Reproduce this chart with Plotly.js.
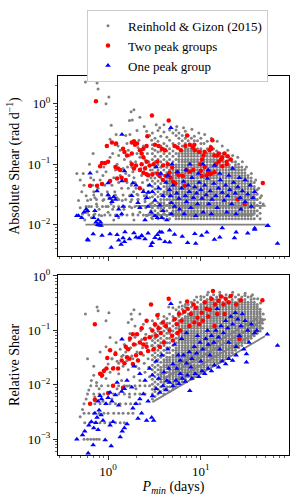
<!DOCTYPE html>
<html><head><meta charset="utf-8">
<script src="https://cdn.plot.ly/plotly-3.0.1.min.js"></script>
<style>html,body{margin:0;padding:0;background:#fff}#chart{width:299px;height:498px}</style>
</head><body><div id="chart"></div>
<script>
// ===== TOP PANEL: absolute shear (rad/d) vs Pmin (days) =====
const grayTopPairs = [
[0.57,2.3],[0.76,2.2],[0.78,1.76],[1.02,1.3],[0.95,1.0],[1.9,0.8],[1.77,0.74],[2.2,0.6],[1.7,0.53],[1.82,0.54],[1.08,0.44],[1.22,0.31],[1.72,0.31],[1.05,0.26],[1.19,0.21],[2.45,0.42],[2.05,0.36],[3.3,0.45],
[0.46,0.07],[0.5,0.055],[0.52,0.035],[0.55,0.045],[0.58,0.03],[0.6,0.025],[0.62,0.02],[0.48,0.025],[0.5,0.019],[0.53,0.015],[0.56,0.012],[0.6,0.016],[0.65,0.06],[0.68,0.045],[0.7,0.035],[0.72,0.028],[0.75,0.022],[0.8,0.018],[0.85,0.014],[0.66,0.013],[0.72,0.015],[0.78,0.04],[0.82,0.055],[0.88,0.065],[0.9,0.09],[0.95,0.075],[1.0,0.11],[1.05,0.13],[0.92,0.045],[0.98,0.035],[1.02,0.028],[1.08,0.022],[1.12,0.018],[0.88,0.025],[0.95,0.02],[1.0,0.016],[1.1,0.045],[1.15,0.06],[1.2,0.08],[1.25,0.1],[1.3,0.14],[1.35,0.17],[1.18,0.035],[1.25,0.028],[1.3,0.05],[1.35,0.065],[1.4,0.04],[1.45,0.085],[1.5,0.12],[1.42,0.025],[1.48,0.018],[0.69,0.15],[0.54,0.07],[0.63,0.1],[0.76,0.075],[1.12,0.15],[1.28,0.2],[0.7,0.055],[0.85,0.032],[1.15,0.012],[1.3,0.013],[1.4,0.015],
[1.55,0.3],[1.6,0.22],[1.65,0.17],[1.7,0.14],[1.75,0.11],[1.8,0.09],[1.85,0.075],[1.9,0.06],[1.95,0.05],[2.0,0.04],[2.05,0.032],[2.1,0.026],[2.15,0.02],[2.2,0.016],[1.6,0.05],[1.65,0.04],[1.7,0.03],[1.75,0.024],[1.8,0.019],[1.85,0.015],[1.9,0.012],[1.55,0.07],[1.62,0.09],[1.68,0.065],[1.78,0.045],[1.88,0.035],[1.98,0.11],[2.05,0.15],[2.1,0.19],[2.15,0.25],[2.2,0.13],[2.25,0.085],[2.3,0.065],[2.35,0.05],[2.4,0.038],[2.45,0.03],[2.5,0.024],[2.55,0.019],[2.6,0.014],[2.3,0.17],[2.4,0.2],[2.5,0.12],[2.55,0.09],[2.6,0.07],[2.65,0.055],[2.7,0.045],[2.75,0.035],[2.8,0.028],[2.85,0.022],[2.9,0.017],[2.95,0.013],[2.65,0.15],[2.75,0.11],[2.85,0.08],[2.9,0.06],[2.95,0.25],[3.0,0.18],[2.8,0.3],[2.6,0.35],
[0.62,0.0145],[0.7,0.0145],[0.8,0.0145],[0.92,0.0145],[1.05,0.0145],[1.2,0.0145],[1.4,0.0145],[1.6,0.0145],[1.85,0.0145],[2.1,0.0145],[2.4,0.0145],[2.7,0.0145],
[0.58,0.02],[0.66,0.02],[0.76,0.02],[0.87,0.02],[1.0,0.02],[1.15,0.02],[1.3,0.02],[1.5,0.02],[1.7,0.02],[1.95,0.02],[2.25,0.02],[2.6,0.02],
[0.65,0.026],[0.75,0.026],[0.9,0.026],[1.1,0.026],[1.3,0.026],[1.55,0.026],[1.8,0.026],[2.1,0.026],[2.5,0.026],
[0.7,0.031],[0.85,0.031],[1.0,0.031],[1.2,0.031],[1.45,0.031],[1.75,0.031],[2.1,0.031],[2.6,0.031],
[5.5,0.42],[6.5,0.4],[8,0.38],[9.5,0.33],[11,0.31],[13,0.27],[15,0.24],[17,0.2],[19.5,0.17],[22,0.14],[25,0.13],[28,0.11],[31,0.09],[35,0.07],[39,0.055],[42,0.04],[45,0.03],[47,0.022],[4,0.45],[3.6,0.4]
];
// dense core: column periods and the shear values stacked in each column
const grayTopColP = [3.0,3.2,3.45,3.7,4.0,4.3,4.6,5.0,5.4,5.8,6.3,6.8,7.3,7.9,8.5,9.2,10,10.8,11.7,12.7,13.7,14.8,16,17.3,18.7,20.2,21.8,23.6,25.5,27.6,29.8,32.2,34.8,37.6,40.5,43.5];
const grayTopColS = [
[0.0125,0.0155,0.019,0.023,0.029,0.035,0.043,0.053,0.065,0.08,0.098,0.12,0.15,0.21,0.33],
[0.014,0.017,0.021,0.026,0.032,0.039,0.048,0.059,0.072,0.089,0.11,0.135,0.17,0.27],
[0.0125,0.0155,0.019,0.023,0.029,0.035,0.043,0.053,0.065,0.08,0.098,0.12,0.16,0.24,0.36],
[0.014,0.017,0.019,0.021,0.023,0.026,0.032,0.039,0.048,0.059,0.072,0.089,0.11,0.135,0.165,0.2,0.29],
[0.0125,0.0155,0.017,0.019,0.021,0.023,0.026,0.029,0.032,0.035,0.043,0.053,0.065,0.08,0.098,0.12,0.15,0.18,0.22,0.34],
[0.014,0.017,0.021,0.026,0.032,0.035,0.039,0.043,0.048,0.053,0.059,0.072,0.089,0.11,0.135,0.165,0.2,0.28],
[0.0125,0.0155,0.019,0.021,0.023,0.026,0.029,0.032,0.035,0.039,0.043,0.048,0.053,0.059,0.065,0.08,0.098,0.12,0.15,0.18,0.25,0.37],
[0.014,0.0155,0.017,0.019,0.021,0.023,0.026,0.029,0.032,0.035,0.039,0.043,0.048,0.053,0.059,0.065,0.072,0.08,0.089,0.11,0.135,0.165,0.22,0.33],
[0.0125,0.014,0.0155,0.017,0.019,0.021,0.023,0.026,0.029,0.032,0.035,0.039,0.043,0.048,0.053,0.059,0.065,0.072,0.08,0.089,0.098,0.12,0.15,0.2,0.3,0.37],
[0.0125,0.014,0.0155,0.017,0.019,0.021,0.023,0.026,0.029,0.032,0.035,0.039,0.043,0.048,0.053,0.059,0.065,0.072,0.08,0.089,0.098,0.11,0.12,0.135,0.15,0.18,0.22,0.27,0.33],
[0.0125,0.014,0.0155,0.017,0.019,0.021,0.023,0.026,0.029,0.032,0.035,0.039,0.043,0.048,0.053,0.059,0.065,0.072,0.08,0.089,0.098,0.11,0.12,0.135,0.15,0.165,0.2,0.245,0.3],
[0.0125,0.014,0.0155,0.017,0.019,0.021,0.023,0.026,0.029,0.032,0.035,0.039,0.043,0.048,0.053,0.059,0.065,0.072,0.08,0.089,0.098,0.11,0.12,0.135,0.15,0.165,0.18,0.22,0.27,0.35],
[0.0125,0.014,0.0155,0.017,0.019,0.021,0.023,0.026,0.029,0.032,0.035,0.039,0.043,0.048,0.053,0.059,0.065,0.072,0.08,0.089,0.098,0.11,0.12,0.135,0.15,0.165,0.18,0.245,0.3],
[0.0125,0.014,0.0155,0.017,0.019,0.021,0.023,0.026,0.029,0.032,0.035,0.039,0.043,0.048,0.053,0.059,0.065,0.072,0.08,0.089,0.098,0.11,0.12,0.135,0.15,0.165,0.18,0.2,0.27],
[0.0125,0.014,0.0155,0.017,0.019,0.021,0.023,0.026,0.029,0.032,0.035,0.039,0.043,0.048,0.053,0.059,0.065,0.072,0.08,0.089,0.098,0.11,0.12,0.135,0.15,0.165,0.18,0.2,0.245,0.29],
[0.0125,0.014,0.0155,0.017,0.019,0.021,0.023,0.026,0.029,0.032,0.035,0.039,0.043,0.048,0.053,0.059,0.065,0.072,0.08,0.089,0.098,0.11,0.12,0.135,0.15,0.165,0.18,0.245],
[0.0125,0.014,0.0155,0.017,0.019,0.021,0.023,0.026,0.029,0.032,0.035,0.039,0.043,0.048,0.053,0.059,0.065,0.072,0.08,0.089,0.098,0.11,0.12,0.135,0.15,0.165,0.18,0.22,0.27],
[0.0125,0.014,0.0155,0.017,0.019,0.021,0.023,0.026,0.029,0.032,0.035,0.039,0.043,0.048,0.053,0.059,0.065,0.072,0.08,0.089,0.098,0.11,0.12,0.135,0.15,0.165,0.22],
[0.0125,0.014,0.0155,0.017,0.019,0.021,0.023,0.026,0.029,0.032,0.035,0.039,0.043,0.048,0.053,0.059,0.065,0.072,0.08,0.089,0.098,0.11,0.12,0.135,0.15,0.18,0.24],
[0.0125,0.014,0.0155,0.017,0.019,0.021,0.023,0.026,0.029,0.032,0.035,0.039,0.043,0.048,0.053,0.059,0.065,0.072,0.08,0.089,0.098,0.11,0.12,0.135,0.15,0.2],
[0.0125,0.014,0.0155,0.017,0.019,0.021,0.023,0.026,0.029,0.032,0.035,0.039,0.043,0.048,0.053,0.059,0.065,0.072,0.08,0.089,0.098,0.11,0.12,0.135,0.15,0.18],
[0.0125,0.014,0.0155,0.017,0.019,0.021,0.023,0.026,0.029,0.032,0.035,0.039,0.043,0.048,0.053,0.059,0.065,0.072,0.08,0.089,0.098,0.11,0.12,0.135,0.165],
[0.0125,0.014,0.0155,0.017,0.019,0.021,0.023,0.026,0.029,0.032,0.035,0.039,0.043,0.048,0.053,0.059,0.065,0.072,0.08,0.089,0.098,0.11,0.12,0.135,0.15],
[0.0125,0.014,0.0155,0.017,0.019,0.021,0.023,0.026,0.029,0.032,0.035,0.039,0.043,0.048,0.053,0.059,0.065,0.072,0.08,0.089,0.098,0.11,0.12,0.15],
[0.0125,0.014,0.0155,0.017,0.019,0.021,0.023,0.026,0.029,0.032,0.035,0.039,0.043,0.048,0.053,0.059,0.065,0.072,0.08,0.089,0.098,0.11,0.135],
[0.0125,0.014,0.0155,0.017,0.019,0.021,0.023,0.026,0.029,0.032,0.035,0.039,0.043,0.048,0.053,0.059,0.065,0.072,0.08,0.089,0.098,0.12],
[0.0125,0.014,0.0155,0.017,0.019,0.021,0.023,0.026,0.029,0.032,0.035,0.039,0.043,0.048,0.053,0.059,0.065,0.072,0.08,0.089,0.11],
[0.0125,0.014,0.0155,0.017,0.019,0.021,0.023,0.026,0.029,0.032,0.035,0.039,0.043,0.048,0.053,0.059,0.065,0.072,0.08,0.089,0.098,0.11],
[0.0125,0.014,0.0155,0.017,0.019,0.021,0.023,0.026,0.029,0.032,0.035,0.039,0.043,0.048,0.053,0.059,0.065,0.072,0.08,0.089,0.1],
[0.0125,0.014,0.0155,0.017,0.019,0.021,0.023,0.026,0.029,0.032,0.035,0.039,0.043,0.048,0.053,0.059,0.065,0.072,0.08,0.09],
[0.0125,0.014,0.0155,0.017,0.019,0.021,0.023,0.026,0.029,0.032,0.035,0.039,0.043,0.048,0.053,0.059,0.065,0.072,0.082],
[0.0125,0.014,0.0155,0.017,0.019,0.021,0.023,0.026,0.029,0.032,0.035,0.039,0.043,0.048,0.053,0.059,0.065],
[0.0125,0.014,0.0155,0.017,0.019,0.021,0.023,0.026,0.029,0.032,0.035,0.039,0.043,0.048,0.053,0.059],
[0.0125,0.0155,0.017,0.019,0.021,0.023,0.026,0.029,0.032,0.035,0.039,0.043,0.05],
[0.014,0.017,0.021,0.026,0.032,0.038],
[0.0125,0.0155,0.019,0.023,0.028]
];
const stripeTopS = [0.01, 0.0145, 0.0205, 0.026];
const stripeTopFrom = [0.57, 2.5, 2.0, 5];
const stripeTopTo = [50, 38, 50, 41];

const redTopPairs = [
[0.74,1.1],[0.97,0.2],[1.1,0.23],[1.22,0.22],[0.86,0.105],[0.93,0.105],[1.0,0.11],[0.82,0.093],[1.2,0.09],[1.28,0.085],[1.35,0.08],[1.45,0.18],[1.5,0.16],[1.6,0.14],[1.8,0.23],[1.9,0.24],[1.95,0.21],[2.05,0.22],[2.2,0.17],[2.3,0.15],[2.4,0.18],[1.05,0.053],[0.76,0.044],[0.86,0.047],[0.64,0.044],[1.25,0.058],[1.4,0.06],[1.55,0.055],[1.8,0.1],[1.9,0.085],[2.0,0.095],[2.2,0.08],[2.4,0.072],[2.5,0.085],[2.7,0.066],[2.2,0.04],[1.8,0.15],[2.6,0.2],[2.65,0.29],[2.97,0.64],[4.5,0.53],[7.1,0.3],[13.3,0.25],[3.2,0.21],[3.5,0.2],[3.8,0.18],[4.1,0.17],[5.2,0.2],[5.6,0.19],[6.1,0.17],[6.8,0.2],[7.6,0.21],[8.2,0.19],[8.6,0.17],[12.4,0.17],[13,0.18],[14,0.14],[15,0.14],[15.6,0.11],[16.5,0.12],[14.5,0.1],[18,0.15],[19,0.11],[21,0.12],[9.6,0.16],[10.3,0.12],[9.8,0.1],[11,0.09],[2.4,0.13],[2.6,0.11],[2.3,0.1],[2.8,0.095],[3.1,0.1],[3.4,0.11],[3.9,0.095],[4.4,0.1],[4.9,0.088],[2.6,0.068],[3.0,0.068],[3.4,0.07],[3.6,0.064],[4.2,0.064],[4.6,0.072],[5.5,0.072],[5.8,0.066],[6.4,0.064],[7,0.08],[7.6,0.075],[8.3,0.08],[10,0.078],[12,0.075],[13,0.07],[14,0.074],[11.5,0.065],[12.5,0.068],[46.5,0.049],[25,0.026],[29.7,0.022],[8.5,0.21],[10.7,0.14],[12.8,0.19],[15.6,0.15],[17,0.13],[19.5,0.135],[11,0.16],[4.7,0.06],[5.0,0.052],[6.7,0.044],[10.2,0.064],[17,0.093],[19,0.1],[5.3,0.048],[3.9,0.055]
];
const blueTopPairs = [
[1.41,0.31],[4.75,0.4],[67,0.0049],[52,0.0096],[38,0.0083],[0.48,0.014],
[0.6,0.0057],[0.69,0.007],[0.86,0.0066],[1.08,0.0042],[1.25,0.0068],[1.3,0.0055],[1.38,0.0047],[1.45,0.006],[1.5,0.0052],[1.7,0.0058],[1.9,0.0073],[2.0,0.0062],[2.15,0.006],
[4.6,0.0081],[5.2,0.0069],[4.6,0.0051],[6.3,0.0064],[7.2,0.005],[8.6,0.0071],[8.8,0.0049],[10.2,0.0066],[11.6,0.0075],[14,0.0057],[17,0.0088],[16,0.0062],[24,0.0075],[23,0.006],[32,0.0072],[38,0.0087],[53,0.0096],[2.3,0.0065],[2.5,0.0058],[2.7,0.0072],[3.0,0.005],[3.2,0.0061],[3.4,0.0068],[3.6,0.0058],[4.1,0.0052],[2.9,0.0045],[3.8,0.0075],
[0.46,0.014],[0.52,0.013],[0.61,0.0055],[0.72,0.017],[0.78,0.012],[0.83,0.011],[1.0,0.031],[1.05,0.027],[1.1,0.024],[1.15,0.029],[1.2,0.026],[1.05,0.007],[1.25,0.014],[1.3,0.018],[1.4,0.015],[1.45,0.02],[1.52,0.0076],[1.8,0.03],[1.85,0.049],[2.1,0.023],[2.3,0.0066],[3.2,0.014],[2.7,0.034],[3.8,0.013],[3.6,0.0076],[0.76,0.036],[1.0,0.049],[1.41,0.053],[1.5,0.077],[0.64,0.071],[0.55,0.016],[0.58,0.018],[0.6,0.017],[0.7,0.013],[0.74,0.011],[0.77,0.01],[0.8,0.0098],[0.84,0.0097],[2.0,0.045],[2.2,0.019],
[4.6,0.038],[4.7,0.03],[4.8,0.023],[5.0,0.045],[5.2,0.02],[5.5,0.033],[5.8,0.027],[5.9,0.018],[6.2,0.04],[6.5,0.052],[6.8,0.03],[7.0,0.024],[7.3,0.045],[7.5,0.035],[7.8,0.019],[8.0,0.06],[8.3,0.028],[8.6,0.042],[9.0,0.033],[9.2,0.022],[9.6,0.05],[10,0.038],[10.3,0.027],[10.6,0.016],[11,0.045],[11.4,0.031],[11.8,0.058],[12.2,0.022],[12.6,0.036],[13.2,0.026],[13.8,0.048],[14.5,0.03],[15,0.019],[15.5,0.04],[16.2,0.055],[17,0.034],[17.8,0.025],[18.5,0.045],[19.5,0.03],[20.5,0.038],[21.5,0.022],[22.5,0.05],[23.5,0.033],[25,0.042],[26.5,0.028],[28,0.036],[30,0.024],[32,0.032],[34,0.045],[36.5,0.028],[38,0.035],[35,0.02],[27,0.018],[24,0.015],[19,0.016],[13,0.015],[8.8,0.014],[6.6,0.015],[3.9,0.03],[3.5,0.04],[3.2,0.025],[3.0,0.035],[2.8,0.045],[2.6,0.028],[2.4,0.035],[4.2,0.05],[4.4,0.065],[3.7,0.07],[5.6,0.075],[6.9,0.08],[9.4,0.07],[12,0.08],[16,0.07],[20,0.065],[26,0.06],[30,0.055],[10.5,0.1],[7.6,0.1],[14,0.095],[4.9,0.1],[3.3,0.09],[22,0.085],
[2.5,0.012],[2.9,0.016],[3.4,0.013],[3.9,0.017],[4.3,0.012],[4.8,0.015],[2.7,0.02],[3.6,0.021]
];

// ===== BOTTOM PANEL: relative shear vs Pmin (days) =====
const grayBotPairs = [
[0.57,0.2],[0.76,0.27],[0.78,0.23],[1.02,0.21],[0.95,0.15],[1.9,0.24],[1.77,0.2],[2.2,0.2],[1.8,0.16],[1.65,0.14],[1.05,0.074],[1.22,0.06],[1.72,0.088],[2.4,0.13],[1.95,0.12],
[1.1,0.03],[1.2,0.04],[1.3,0.025],[1.45,0.035],[1.6,0.045],[1.85,0.03],[2.0,0.022],
[0.55,0.001],[0.6,0.001],[0.65,0.001],[0.7,0.001],[0.75,0.001],[0.8,0.001],
[0.56,0.002],[0.64,0.002],[0.72,0.002],[0.82,0.002],[0.92,0.002],[1.05,0.002],[1.2,0.002],[1.35,0.002],[1.5,0.002],
[0.55,0.003],[0.62,0.003],[0.7,0.003],[0.8,0.003],[0.9,0.003],[1.0,0.003],[1.15,0.003],[1.3,0.003],[1.45,0.003],[1.65,0.003],[1.85,0.003],
[0.55,0.0045],[0.63,0.0045],[0.72,0.0045],[0.82,0.0045],[0.93,0.0045],[1.05,0.0045],[1.2,0.0045],[1.35,0.0045],[1.55,0.0045],[1.75,0.0045],[1.95,0.0045],[2.2,0.0045],
[0.6,0.0068],[0.7,0.0068],[0.8,0.0068],[0.9,0.0068],[1.0,0.0068],[1.15,0.0068],[1.3,0.0068],[1.5,0.0068],[1.7,0.0068],[1.95,0.0068],[2.2,0.0068],[2.5,0.0068],
[0.65,0.0096],[0.75,0.0096],[0.85,0.0096],[1.0,0.0096],[1.15,0.0096],[1.3,0.0096],[1.5,0.0096],[1.7,0.0096],[1.95,0.0096],[2.2,0.0096],[2.5,0.0096],[2.8,0.0096],
[0.5,0.0026],[0.53,0.0035],[0.58,0.0055],[0.62,0.008],[0.66,0.012],[0.7,0.015],[0.75,0.011],[0.8,0.0085],[0.85,0.014],[0.9,0.019],[0.95,0.013],[1.0,0.024],[1.05,0.017],[1.1,0.03],[1.15,0.021],[1.2,0.038],[1.25,0.027],[1.3,0.016],[1.35,0.045],[1.4,0.033],[1.45,0.022],[1.5,0.055],[1.55,0.04],[1.6,0.028],[1.65,0.019],[1.7,0.065],[1.75,0.048],[1.8,0.034],[1.85,0.024],[1.9,0.014],[1.95,0.075],[2.0,0.055],[2.05,0.04],[2.1,0.029],[2.15,0.02],[2.2,0.012],[2.25,0.1],[2.3,0.068],[2.35,0.048],[2.4,0.035],[2.45,0.025],[2.5,0.017],[2.55,0.085],[2.6,0.058],[2.65,0.042],[2.7,0.03],[2.75,0.021],[2.8,0.014],[2.85,0.11],[2.9,0.075],[2.95,0.052],[0.72,0.006],[0.88,0.005],[1.1,0.0055],[1.25,0.0085],[1.4,0.012],[1.6,0.0095],[0.6,0.03],[0.82,0.04],[0.95,0.05],[0.7,0.022],[1.7,0.006],[2.0,0.0085],
[6,0.33],[9,0.41],[12,0.5],[16,0.5],[22,0.5],[30,0.48],[36,0.45],[41,0.38],[44,0.32],[47,0.2],[4.5,0.27],[3.5,0.2]
];
const grayBotColP = [3.0,3.2,3.45,3.7,4.0,4.3,4.6,5.0,5.4,5.8,6.3,6.8,7.3,7.9,8.5,9.2,10,10.8,11.7,12.7,13.7,14.8,16,17.3,18.7,20.2,21.8,23.6,25.5,27.6,29.8,32.2,34.8,37.6,40.5,43.5,46];
const grayBotColR = [
[0.0055,0.0068,0.0083,0.0102,0.0126,0.0155,0.019,0.023,0.029,0.035,0.043,0.053,0.065,0.08,0.098,0.15],
[0.0061,0.0075,0.0092,0.0113,0.014,0.017,0.021,0.026,0.032,0.039,0.048,0.059,0.072,0.089,0.12],
[0.0068,0.0083,0.0102,0.0126,0.0155,0.019,0.023,0.029,0.035,0.043,0.053,0.065,0.08,0.098,0.12,0.165],
[0.0075,0.0092,0.0113,0.0126,0.014,0.0155,0.017,0.019,0.021,0.026,0.032,0.039,0.048,0.059,0.072,0.089,0.11,0.135],
[0.0068,0.0083,0.0102,0.0113,0.0126,0.014,0.0155,0.017,0.019,0.021,0.023,0.026,0.029,0.035,0.043,0.053,0.065,0.08,0.098,0.12,0.15,0.18],
[0.0083,0.0092,0.0113,0.014,0.017,0.021,0.023,0.026,0.029,0.032,0.039,0.048,0.059,0.072,0.089,0.11,0.135,0.165],
[0.0075,0.0092,0.0113,0.0126,0.014,0.0155,0.017,0.019,0.021,0.023,0.026,0.029,0.032,0.039,0.048,0.059,0.072,0.089,0.11,0.135,0.2],
[0.0083,0.0092,0.0102,0.0113,0.0126,0.014,0.0155,0.017,0.019,0.021,0.023,0.026,0.029,0.032,0.035,0.043,0.053,0.065,0.08,0.098,0.12,0.15,0.18,0.26],
[0.0092,0.0102,0.0113,0.0126,0.014,0.0155,0.017,0.019,0.021,0.023,0.026,0.029,0.032,0.035,0.039,0.043,0.048,0.059,0.072,0.089,0.11,0.135,0.165,0.24],
[0.0102,0.0113,0.0126,0.014,0.0155,0.017,0.019,0.021,0.023,0.026,0.029,0.032,0.035,0.039,0.043,0.048,0.053,0.059,0.065,0.072,0.08,0.089,0.098,0.11,0.12,0.135,0.15,0.18,0.22,0.27],
[0.0113,0.0126,0.014,0.0155,0.017,0.019,0.021,0.023,0.026,0.029,0.032,0.035,0.039,0.043,0.048,0.053,0.059,0.065,0.072,0.08,0.089,0.098,0.11,0.12,0.135,0.15,0.165,0.2,0.245,0.28],
[0.0126,0.014,0.0155,0.017,0.019,0.021,0.023,0.026,0.029,0.032,0.035,0.039,0.043,0.048,0.053,0.059,0.065,0.072,0.08,0.089,0.098,0.11,0.12,0.135,0.15,0.165,0.18,0.22,0.27,0.3],
[0.014,0.0155,0.017,0.019,0.021,0.023,0.026,0.029,0.032,0.035,0.039,0.043,0.048,0.053,0.059,0.065,0.072,0.08,0.089,0.098,0.11,0.12,0.135,0.15,0.165,0.18,0.2,0.245,0.3],
[0.0126,0.014,0.0155,0.017,0.019,0.021,0.023,0.026,0.029,0.032,0.035,0.039,0.043,0.048,0.053,0.059,0.065,0.072,0.08,0.089,0.098,0.11,0.12,0.135,0.15,0.165,0.18,0.2,0.22,0.27,0.33],
[0.014,0.0155,0.017,0.019,0.021,0.023,0.026,0.029,0.032,0.035,0.039,0.043,0.048,0.053,0.059,0.065,0.072,0.08,0.089,0.098,0.11,0.12,0.135,0.15,0.165,0.18,0.2,0.22,0.245,0.3,0.36],
[0.0155,0.017,0.019,0.021,0.023,0.026,0.029,0.032,0.035,0.039,0.043,0.048,0.053,0.059,0.065,0.072,0.08,0.089,0.098,0.11,0.12,0.135,0.15,0.165,0.18,0.2,0.22,0.245,0.27,0.33],
[0.017,0.019,0.021,0.023,0.026,0.029,0.032,0.035,0.039,0.043,0.048,0.053,0.059,0.065,0.072,0.08,0.089,0.098,0.11,0.12,0.135,0.15,0.165,0.18,0.2,0.22,0.245,0.27,0.3,0.37,0.42],
[0.019,0.021,0.023,0.026,0.029,0.032,0.035,0.039,0.043,0.048,0.053,0.059,0.065,0.072,0.08,0.089,0.098,0.11,0.12,0.135,0.15,0.165,0.18,0.2,0.22,0.245,0.27,0.3,0.33,0.41],
[0.021,0.023,0.026,0.029,0.032,0.035,0.039,0.043,0.048,0.053,0.059,0.065,0.072,0.08,0.089,0.098,0.11,0.12,0.135,0.15,0.165,0.18,0.2,0.22,0.245,0.27,0.3,0.33,0.37,0.45],
[0.023,0.026,0.029,0.032,0.035,0.039,0.043,0.048,0.053,0.059,0.065,0.072,0.08,0.089,0.098,0.11,0.12,0.135,0.15,0.165,0.18,0.2,0.22,0.245,0.27,0.3,0.33,0.37,0.41],
[0.023,0.026,0.029,0.032,0.035,0.039,0.043,0.048,0.053,0.059,0.065,0.072,0.08,0.089,0.098,0.11,0.12,0.135,0.15,0.165,0.18,0.2,0.22,0.245,0.27,0.3,0.33,0.37,0.45],
[0.026,0.029,0.032,0.035,0.039,0.043,0.048,0.053,0.059,0.065,0.072,0.08,0.089,0.098,0.11,0.12,0.135,0.15,0.165,0.18,0.2,0.22,0.245,0.27,0.3,0.33,0.37,0.41],
[0.026,0.029,0.032,0.035,0.039,0.043,0.048,0.053,0.059,0.065,0.072,0.08,0.089,0.098,0.11,0.12,0.135,0.15,0.165,0.18,0.2,0.22,0.245,0.27,0.3,0.33,0.37,0.45],
[0.029,0.032,0.035,0.039,0.043,0.048,0.053,0.059,0.065,0.072,0.08,0.089,0.098,0.11,0.12,0.135,0.15,0.165,0.18,0.2,0.22,0.245,0.27,0.3,0.33,0.41],
[0.032,0.035,0.039,0.043,0.048,0.053,0.059,0.065,0.072,0.08,0.089,0.098,0.11,0.12,0.135,0.15,0.165,0.18,0.2,0.22,0.245,0.27,0.3,0.33,0.37,0.45],
[0.035,0.039,0.043,0.048,0.053,0.059,0.065,0.072,0.08,0.089,0.098,0.11,0.12,0.135,0.15,0.165,0.18,0.2,0.22,0.245,0.27,0.3,0.33,0.41],
[0.039,0.043,0.048,0.053,0.059,0.065,0.072,0.08,0.089,0.098,0.11,0.12,0.135,0.15,0.165,0.18,0.2,0.22,0.245,0.27,0.3,0.33,0.37,0.45],
[0.043,0.048,0.053,0.059,0.065,0.072,0.08,0.089,0.098,0.11,0.12,0.135,0.15,0.165,0.18,0.2,0.22,0.245,0.27,0.3,0.33,0.41],
[0.048,0.053,0.059,0.065,0.072,0.08,0.089,0.098,0.11,0.12,0.135,0.15,0.165,0.18,0.2,0.22,0.245,0.27,0.3,0.33,0.37,0.45],
[0.053,0.059,0.065,0.072,0.08,0.089,0.098,0.11,0.12,0.135,0.15,0.165,0.18,0.2,0.22,0.245,0.27,0.3,0.33,0.41],
[0.059,0.065,0.072,0.08,0.089,0.098,0.11,0.12,0.135,0.15,0.165,0.18,0.2,0.22,0.245,0.27,0.3,0.33,0.37,0.44],
[0.065,0.072,0.08,0.089,0.098,0.11,0.12,0.135,0.15,0.165,0.18,0.2,0.22,0.245,0.27,0.3,0.33,0.41],
[0.072,0.08,0.089,0.098,0.11,0.12,0.135,0.15,0.165,0.18,0.2,0.22,0.245,0.27,0.3,0.33,0.37,0.42],
[0.08,0.089,0.098,0.11,0.12,0.135,0.15,0.165,0.18,0.2,0.22,0.245,0.27,0.3,0.33,0.38],
[0.089,0.098,0.11,0.12,0.135,0.15,0.165,0.18,0.2,0.22,0.245,0.27,0.3],
[0.098,0.11,0.12,0.135,0.15,0.165,0.18,0.2,0.22,0.245],
[0.11,0.135,0.16]
];
const stripeBotP0 = [3, 5, 4, 5];
const stripeBotR0 = [0.0048, 0.0115, 0.013, 0.0207];
const stripeBotP1 = [49, 38, 50, 41];
const stripeBotR1 = [0.078, 0.088, 0.163, 0.17];

const redBotPairs = [
[0.72,0.13],[0.98,0.031],[1.05,0.043],[1.2,0.037],[1.13,0.02],[0.82,0.016],[0.86,0.015],[0.9,0.018],[0.96,0.02],[1.0,0.0071],[1.13,0.0096],[1.45,0.0088],[0.64,0.0045],[0.72,0.0053],[1.28,0.02],[1.4,0.028],[1.5,0.025],[1.6,0.032],[1.7,0.03],[1.85,0.024],[2.0,0.035],[2.1,0.028],[2.25,0.038],[1.72,0.071],[1.85,0.085],[2.05,0.085],[1.55,0.05],[1.65,0.045],[2.2,0.06],[2.4,0.055],[2.5,0.07],[2.6,0.05],[2.9,0.3],[3.2,0.13],[3.0,0.1],[3.3,0.08],[3.5,0.11],[3.7,0.09],[3.9,0.14],[2.8,0.075],[4.2,0.12],[4.5,0.38],[4.6,0.1],[4.9,0.08],[5.2,0.16],[5.5,0.13],[5.8,0.2],[6.2,0.15],[6.6,0.22],[7.1,0.34],[7.2,0.25],[7.8,0.2],[8.3,0.3],[8.8,0.26],[9.2,0.17],[9.6,0.13],[10.2,0.21],[10.5,0.15],[11,0.33],[11.5,0.25],[12.5,0.24],[13,0.38],[13.5,0.53],[14.2,0.3],[15,0.2],[15.5,0.35],[16.5,0.42],[17.5,0.3],[18.5,0.38],[20,0.33],[21,0.43],[24,0.3],[26,0.07],[27,0.36],[46,0.36],[4.0,0.06],[5.0,0.065],[3.6,0.05],[6.0,0.1],[7.5,0.12],[8.5,0.14],[12,0.18],[14,0.12],[18,0.2],[2.7,0.042],[3.1,0.045],[2.3,0.11],[2.6,0.15],[1.9,0.055],[3.4,0.19],[5.6,0.09]
];
const blueBotPairs = [
[0.46,0.001],[0.53,0.0012],[0.56,0.0014],[0.61,0.00055],[0.69,0.00078],[0.62,0.0018],[0.66,0.0021],[0.7,0.0016],[0.74,0.002],[0.78,0.0015],[0.72,0.003],[0.93,0.00097],[1.08,0.00075],[0.76,0.0025],[0.8,0.0034],[0.84,0.0028],[0.88,0.0022],[0.78,0.005],[0.82,0.0063],[0.85,0.0055],[0.95,0.0045],[1.0,0.0058],[1.05,0.0072],[1.1,0.005],[1.2,0.0065],[1.3,0.0042],[1.4,0.0075],[1.05,0.0018],[1.13,0.0021],[1.35,0.0011],[1.42,0.0014],[1.5,0.0016],[1.6,0.0019],[1.85,0.0037],[2.1,0.0024],[2.3,0.003],[2.95,0.0025],[3.1,0.0022],[2.6,0.0022],[2.0,0.0045],[2.2,0.0055],[2.4,0.0068],[2.7,0.005],[3.0,0.0062],[3.3,0.0085],[3.6,0.0072],[3.9,0.0095],[4.2,0.008],[4.6,0.011],[5.0,0.0095],[5.4,0.012],[5.8,0.0105],[6.3,0.013],[6.8,0.0115],[7.6,0.0078],[7.2,0.015],[8.0,0.013],[8.7,0.016],[9.5,0.014],[10.3,0.018],[11,0.016],[12,0.02],[13,0.018],[14,0.023],[15.5,0.021],[17,0.027],[18.5,0.024],[20,0.03],[22,0.028],[24,0.035],[31,0.026],[31,0.037],[29,0.045],[67,0.053],[52,0.085],[40,0.1],[4.75,0.31],[1.41,0.069],[1.6,0.012],[1.8,0.009],[1.25,0.011],[1.5,0.0085],[2.5,0.012],[3.0,0.015],[3.5,0.013],[4.0,0.017],[4.5,0.02],[5.0,0.024],[5.5,0.02],[6.0,0.028],[6.5,0.035],[7.0,0.025],[7.5,0.04],[8.0,0.03],[8.5,0.05],[9.0,0.038],[9.8,0.06],[10.5,0.045],[11.3,0.07],[12,0.055],[13,0.08],[13.8,0.06],[14.5,0.1],[15.5,0.075],[16.5,0.12],[17.5,0.09],[18.5,0.15],[19.5,0.11],[21,0.18],[22,0.13],[23.5,0.21],[25,0.16],[27,0.12],[28,0.2],[30,0.15],[32,0.1],[35,0.13],[38,0.09],[26,0.08],[20,0.06],[16,0.045],[12.5,0.035],[10,0.027],[7.8,0.021],[6.0,0.016],[4.3,0.012],[3.3,0.027],[3.8,0.035],[4.4,0.045],[5.2,0.055],[6.2,0.07],[7.0,0.09],[2.8,0.02],[2.2,0.016],[1.9,0.022],[5.7,0.035],[11.8,0.1],[9.2,0.08],[15,0.25],[24,0.05],[33,0.06]
];

// axis tick labels and legend names
const xTickVals = [1, 10];
const xTickText = ['10<sup>0</sup>', '10<sup>1</sup>'];
const yTopTickVals = [0.01, 0.1, 1];
const yTopTickText = ['10<sup>\u22122</sup>', '10<sup>\u22121</sup>', '10<sup>0</sup>'];
const yBotTickVals = [0.001, 0.01, 0.1, 1];
const yBotTickText = ['10<sup>\u22123</sup>', '10<sup>\u22122</sup>', '10<sup>\u22121</sup>', '10<sup>0</sup>'];
const seriesNames = ['Reinhold &amp; Gizon (2015)', 'Two peak groups', 'One peak group'];

// ---------- build ----------
function unzip(pairs){ return [pairs.map(d=>d[0]), pairs.map(d=>d[1])]; }
function flatCols(ps, ss){ const x=[],y=[]; ps.forEach((p,i)=>ss[i].forEach(v=>{x.push(p);y.push(v);})); return [x,y]; }
function decadeMinors(lo, hi){ const out=[]; for(let e=lo;e<=hi;e++){ for(let m=2;m<=9;m++) out.push(m*Math.pow(10,e)); } return out; }

const GRAY='#808080', RED='#ff0000', BLUE='#0000ff';
const FONT="'Liberation Serif', 'Times New Roman', Times, serif";
const traces=[];
stripeTopS.forEach((s,i)=>traces.push({type:'scatter',mode:'lines',x:[stripeTopFrom[i],stripeTopTo[i]],y:[s,s],xaxis:'x',yaxis:'y',line:{color:GRAY,width:1.8},showlegend:false,hoverinfo:'skip'}));
stripeBotP0.forEach((p,i)=>traces.push({type:'scatter',mode:'lines',x:[p,stripeBotP1[i]],y:[stripeBotR0[i],stripeBotR1[i]],xaxis:'x2',yaxis:'y2',line:{color:GRAY,width:1.8},showlegend:false,hoverinfo:'skip'}));

const gT1=unzip(grayTopPairs), gT2=flatCols(grayTopColP,grayTopColS);
const gB1=unzip(grayBotPairs), gB2=flatCols(grayBotColP,grayBotColR);
const gm={color:GRAY,size:3,symbol:'circle'};
const rm={color:RED,size:4.5,symbol:'circle'};
const bm={color:BLUE,size:5,symbol:'triangle-up'};
traces.push({type:'scatter',mode:'markers',name:seriesNames[0],legendgroup:'g',x:gT1[0].concat(gT2[0]),y:gT1[1].concat(gT2[1]),xaxis:'x',yaxis:'y',marker:gm});
traces.push({type:'scatter',mode:'markers',name:seriesNames[0],legendgroup:'g',showlegend:false,x:gB1[0].concat(gB2[0]),y:gB1[1].concat(gB2[1]),xaxis:'x2',yaxis:'y2',marker:gm});
const rT=unzip(redTopPairs), rB=unzip(redBotPairs), bT=unzip(blueTopPairs), bB=unzip(blueBotPairs);
traces.push({type:'scatter',mode:'markers',name:seriesNames[1],legendgroup:'r',x:rT[0],y:rT[1],xaxis:'x',yaxis:'y',marker:rm});
traces.push({type:'scatter',mode:'markers',name:seriesNames[1],legendgroup:'r',showlegend:false,x:rB[0],y:rB[1],xaxis:'x2',yaxis:'y2',marker:rm});
traces.push({type:'scatter',mode:'markers',name:seriesNames[2],legendgroup:'b',x:bT[0],y:bT[1],xaxis:'x',yaxis:'y',marker:bm});
traces.push({type:'scatter',mode:'markers',name:seriesNames[2],legendgroup:'b',showlegend:false,x:bB[0],y:bB[1],xaxis:'x2',yaxis:'y2',marker:bm});

const common={type:'log',showgrid:false,zeroline:false,showline:true,linecolor:'#000',linewidth:1,mirror:true,ticks:'outside',ticklen:4,tickwidth:0.8,tickcolor:'#000',tickmode:'array',tickfont:{family:FONT,size:13,color:'#000'}};
const minorX={tickmode:'array',tickvals:decadeMinors(-1,1),ticks:'outside',ticklen:2,tickwidth:0.6,tickcolor:'#000',showgrid:false};
const layout={
  width:299,height:498,margin:{l:58,r:10,t:72,b:43},
  paper_bgcolor:'#fff',plot_bgcolor:'#fff',
  font:{family:FONT,size:13,color:'#000'},
  showlegend:true,
  legend:{x:0.1255,y:1.175,xanchor:'left',yanchor:'top',bordercolor:'#cccccc',borderwidth:1,bgcolor:'#fff',font:{family:FONT,size:13,color:'#000'},traceorder:'normal',itemsizing:'trace'},
  xaxis:Object.assign({},common,{domain:[0,1],anchor:'y',range:[-0.54,1.95],tickvals:xTickVals,ticktext:xTickText,showticklabels:false,minor:minorX}),
  yaxis:Object.assign({},common,{domain:[0.5248,1],anchor:'x',range:[-2.52,0.46],tickvals:yTopTickVals,ticktext:yTopTickText,
    minor:{tickmode:'array',tickvals:decadeMinors(-3,0),ticks:'outside',ticklen:2,tickwidth:0.6,tickcolor:'#000',showgrid:false},
    title:{text:'Absolute Shear (rad d<sup>\u22121</sup>)',font:{family:FONT,size:14,color:'#000'},standoff:4}}),
  xaxis2:Object.assign({},common,{domain:[0,1],anchor:'y2',range:[-0.54,1.95],tickvals:xTickVals,ticktext:xTickText,minor:minorX,
    title:{text:'<i>P<sub>min</sub></i> (days)',font:{family:FONT,size:14,color:'#000'},standoff:2}}),
  yaxis2:Object.assign({},common,{domain:[0,0.4752],anchor:'x2',range:[-3.29,0.02],tickvals:yBotTickVals,ticktext:yBotTickText,
    minor:{tickmode:'array',tickvals:decadeMinors(-4,-1),ticks:'outside',ticklen:2,tickwidth:0.6,tickcolor:'#000',showgrid:false},
    title:{text:'Relative Shear',font:{family:FONT,size:14,color:'#000'},standoff:4}})
};
Plotly.newPlot('chart',traces,layout,{staticPlot:true,displayModeBar:false});
</script></body></html>
